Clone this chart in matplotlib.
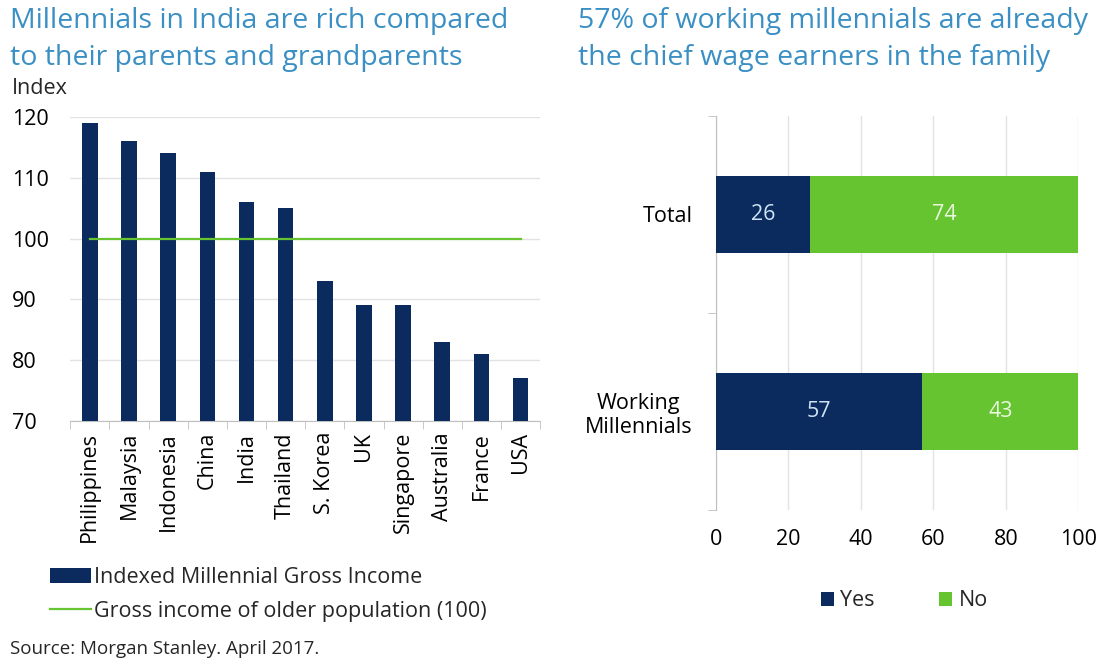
import numpy as np
from matplotlib import pyplot as plt
from matplotlib.patches import Patch
from matplotlib.lines import Line2D

# income index by country
countries = ['Philippines', 'Malaysia', 'Indonesia', 'China', 'India', 'Thailand',
             'S. Korea', 'UK', 'Singapore', 'Australia', 'France', 'USA']
income_index = [119, 116, 114, 111, 106, 105, 93, 89, 89, 83, 81, 77]
older_level = 100

# chief wage earner split
groups = ['Total', 'Working\nMillennials']
yes_pct = [26, 57]
no_pct = [74, 43]

navy = '#0b2b5e'
green = '#66c430'
title_blue = '#3a8fc4'
grid_col = '#e2e2e2'
text_col = '#262626'
fs = 15.5

plt.rcParams['font.family'] = ['Open Sans', 'DejaVu Sans']
plt.rcParams['text.color'] = text_col

fig = plt.figure(figsize=(10.98, 6.63), dpi=100)

# left panel: bars with reference line
ax1 = fig.add_axes([0.064, 0.365, 0.428, 0.4585])
x = np.arange(len(countries))
ax1.bar(x, np.array(income_index) - 70, bottom=70, width=0.4, color=navy, zorder=3)
ax1.plot([x[0], x[-1]], [older_level, older_level], color=green, lw=1.6, zorder=4)
ax1.set_ylim(70, 120)
ax1.set_xlim(-0.5, len(countries) - 0.5)
ax1.set_yticks(range(70, 121, 10))
ax1.set_xticks(x)
ax1.set_xticklabels(countries, rotation=90, fontsize=fs)
ax1.set_xticks(np.arange(-0.5, len(countries)), minor=True)
ax1.tick_params(axis='x', which='major', length=0, pad=8)
ax1.tick_params(axis='x', which='minor', length=6, color='#bfbfbf')
ax1.tick_params(axis='y', length=0, labelsize=fs, pad=42)
ax1.grid(axis='y', color=grid_col, lw=1, zorder=0)
for s in ['top', 'right', 'left']:
    ax1.spines[s].set_visible(False)
ax1.spines['bottom'].set_color('#bfbfbf')
for lbl in ax1.get_yticklabels():
    lbl.set_horizontalalignment('left')
ax1.text(-0.124, 1.095, 'Index', transform=ax1.transAxes, fontsize=fs, va='center')

fig.text(0.009, 0.99, 'Millennials in India are rich compared\nto their parents and grandparents',
         color=title_blue, fontsize=20.5, va='top', linespacing=1.45)

handles1 = [Patch(facecolor=navy, label='Indexed Millennial Gross Income'),
            Line2D([], [], color=green, lw=1.6, label='Gross income of older population (100)')]
fig.legend(handles=handles1, loc='upper left', bbox_to_anchor=(0.038, 0.158),
           frameon=False, fontsize=fs, handlelength=1.9, handletextpad=0.15,
           labelspacing=0.6, borderaxespad=0)

fig.text(0.009, 0.008, 'Source: Morgan Stanley. April 2017.', fontsize=13.5, va='bottom')

# right panel: stacked horizontal bars
ax2 = fig.add_axes([0.652, 0.231, 0.33, 0.594])
y = np.arange(len(groups))
ax2.barh(y, yes_pct, height=0.39, color=navy, label='Yes', zorder=3)
ax2.barh(y, no_pct, left=yes_pct, height=0.39, color=green, label='No', zorder=3)
for i in range(len(groups)):
    ax2.text(yes_pct[i] / 2, y[i], str(yes_pct[i]), color='#cfe3f5',
             ha='center', va='center', fontsize=fs, zorder=4)
    ax2.text(yes_pct[i] + no_pct[i] / 2, y[i], str(no_pct[i]), color='#eaf7df',
             ha='center', va='center', fontsize=fs, zorder=4)
ax2.set_xlim(0, 100)
ax2.set_ylim(len(groups) - 0.5, -0.5)
ax2.set_xticks(range(0, 101, 20))
ax2.set_yticks(y)
ax2.set_yticklabels(groups, fontsize=fs, multialignment='center')
ax2.set_yticks(np.arange(-0.5, len(groups)), minor=True)
ax2.tick_params(axis='y', which='major', length=0, pad=17)
ax2.tick_params(axis='y', which='minor', length=6, color='#bfbfbf')
ax2.tick_params(axis='x', length=0, labelsize=fs, pad=14)
ax2.grid(axis='x', color=grid_col, lw=1, zorder=0)
for s in ['top', 'right', 'bottom']:
    ax2.spines[s].set_visible(False)
ax2.spines['left'].set_color('#bfbfbf')

fig.text(0.526, 0.99, '57% of working millennials are already\nthe chief wage earners in the family',
         color=title_blue, fontsize=20.5, va='top', linespacing=1.45)

ax2.legend(loc='upper center', bbox_to_anchor=(0.52, -0.155), ncol=2, frameon=False,
           fontsize=fs, handlelength=0.6, handleheight=0.6, handletextpad=0.3,
           columnspacing=3.0)

fig.savefig('out.png', dpi=100)
